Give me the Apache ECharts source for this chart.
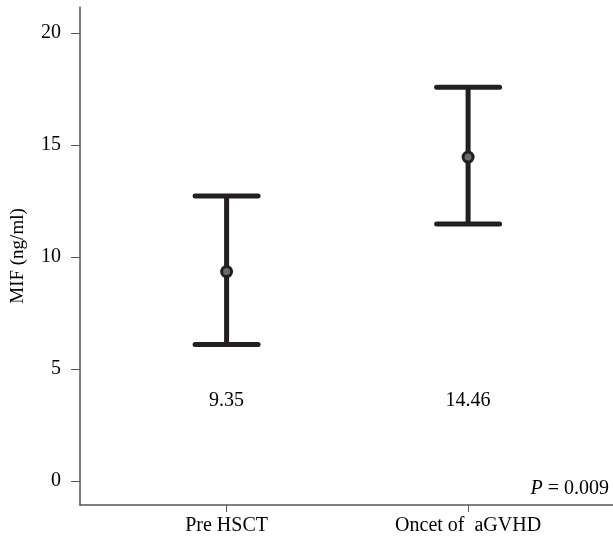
<!DOCTYPE html>
<html>
<head>
<meta charset="utf-8">
<script src="https://cdn.jsdelivr.net/npm/echarts@6/dist/echarts.min.js"></script>
<style>html,body{margin:0;padding:0;background:#fff}#c{width:613px;height:544px}</style>
</head>
<body>
<div id="c"></div>
<script>
const categories = ['Pre HSCT', 'Oncet of  aGVHD'];
const means = [9.35, 14.46];
const lower = [6.1, 11.47];
const upper = [12.72, 17.58];
const yTicks = [0, 5, 10, 15, 20];
const pText = '0.009';

const FONT = '"Liberation Serif", "DejaVu Serif", serif';
const DARK = '#231f20';
const chart = echarts.init(document.getElementById('c'), null, {renderer: 'canvas'});

const barData = categories.map((c, i) => [i + 1, lower[i], upper[i], means[i]]);
const meanData = categories.map((c, i) => [i + 1, means[i]]);

chart.setOption({
  animation: false,
  backgroundColor: '#fff',
  grid: {left: 80, right: 0, top: 7, bottom: 39, containLabel: false, outerBoundsMode: 'none'},
  xAxis: {
    type: 'value', min: 0.393, max: 2.6,
    axisLine: {show: true, onZero: false, lineStyle: {color: '#555', width: 1.5}},
    axisTick: {show: true, customValues: [1, 2], length: 7, lineStyle: {color: '#555', width: 1}},
    axisLabel: {customValues: [1, 2], margin: 11, fontFamily: FONT, fontSize: 20, color: '#000',
      formatter: v => categories[Math.round(v) - 1] || ''},
    splitLine: {show: false}
  },
  yAxis: {
    type: 'value', min: -1.07, max: 21.16,
    name: 'MIF (ng/ml)', nameLocation: 'middle', nameGap: 52, nameRotate: 90,
    nameTextStyle: {fontFamily: FONT, fontSize: 19, color: '#000'},
    axisLine: {show: true, onZero: false, lineStyle: {color: '#555', width: 1.5}},
    axisTick: {show: true, customValues: yTicks, length: 9, lineStyle: {color: '#555', width: 1}},
    axisLabel: {customValues: yTicks, margin: 19, fontFamily: FONT, fontSize: 20, color: '#000'},
    splitLine: {show: false}
  },
  series: [
    {
      type: 'custom',
      data: barData,
      renderItem: function (params, api) {
        const x = api.value(0), lo = api.value(1), hi = api.value(2), m = api.value(3);
        const pLo = api.coord([x, lo]), pHi = api.coord([x, hi]);
        const pLab = api.coord([x, 3.6]);
        const half = 31.5;
        const st = {stroke: DARK, lineWidth: 5, lineCap: 'round'};
        return {
          type: 'group',
          children: [
            {type: 'line', shape: {x1: pLo[0], y1: pLo[1], x2: pHi[0], y2: pHi[1]}, style: {stroke: DARK, lineWidth: 5}},
            {type: 'line', shape: {x1: pHi[0] - half, y1: pHi[1], x2: pHi[0] + half, y2: pHi[1]}, style: st},
            {type: 'line', shape: {x1: pLo[0] - half, y1: pLo[1], x2: pLo[0] + half, y2: pLo[1]}, style: st},
            {type: 'text', x: pLab[0], y: pLab[1], style: {text: m.toFixed(2), font: '20px ' + FONT, fill: '#000', align: 'center', verticalAlign: 'middle'}}
          ]
        };
      },
      z: 2
    },
    {
      type: 'scatter',
      data: meanData,
      symbol: 'circle',
      symbolSize: 10,
      itemStyle: {color: '#6a6a6a', borderColor: DARK, borderWidth: 3, opacity: 1},
      z: 3
    }
  ],
  graphic: [
    {
      type: 'text', right: 4, top: 479,
      style: {
        text: '{i|P} = ' + pText,
        rich: {i: {fontFamily: FONT, fontStyle: 'italic', fontSize: 20, fill: '#000'}},
        font: '20px ' + FONT, fill: '#000'
      }
    }
  ]
});
</script>
</body>
</html>
